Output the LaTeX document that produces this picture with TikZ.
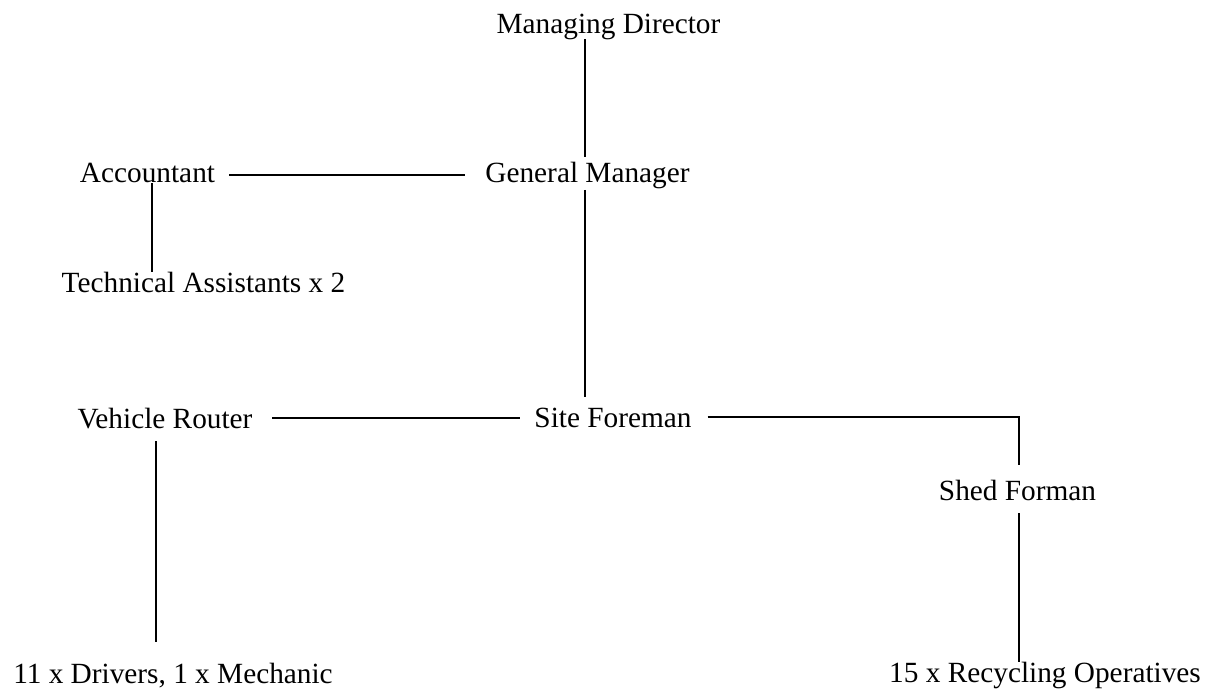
\documentclass[tikz,border=0pt]{standalone}
\usepackage{fontspec}
\setmainfont{Liberation Serif}
\begin{document}
\begin{tikzpicture}[x=1pt,y=-1pt,
  lbl/.style={anchor=base,inner sep=0pt,outer sep=0pt,font=\fontsize{29.3}{35}\selectfont},
  conn/.style={line width=1.4pt,line cap=butt}]
\useasboundingbox (0,0) rectangle (1214,691);
\fill[white] (0,0) rectangle (1214,691);
% nodes
\node[lbl] (MD) at (608.5,33) {Managing Director};
\node[lbl] (GM) at (587.5,182) {General Manager};
\node[lbl] (Acc) at (147.5,182) {Accountant};
\node[lbl] (TA) at (203.5,292) {Technical Assistants x 2};
\node[lbl] (VR) at (165,428) {Vehicle Router};
\node[lbl] (SF) at (613,427) {Site Foreman};
\node[lbl] (Shed) at (1017.5,500) {Shed Forman};
\node[lbl] (Drv) at (173,683) {11 x Drivers, 1 x Mechanic};
\node[lbl] (Rec) at (1045,682) {15 x Recycling Operatives};
% guide coordinates
\coordinate (xGM) at (585,0);
\coordinate (xAcc) at (152,0);
\coordinate (xVR) at (156,0);
\coordinate (xShed) at (1019,0);
\coordinate (yTop) at (0,175);
\coordinate (yMid) at (0,418);
\coordinate (yRight) at (0,417);
% connectors
\draw[conn,shorten >=5pt] (xGM |- MD.south) -- (xGM |- GM.north);
\draw[conn,shorten <=14pt,shorten >=20pt] (Acc.east |- yTop) -- (GM.west |- yTop);
\draw[conn,shorten <=1pt] (xAcc |- Acc.south) -- (xAcc |- TA.north);
\draw[conn,shorten <=1.6pt,shorten >=11pt] (xGM |- GM.south) -- (xGM |- SF.north);
\draw[conn,shorten <=20pt,shorten >=14pt] (VR.east |- yMid) -- (SF.west |- yMid);
\draw[conn,shorten <=16pt,shorten >=15pt] (SF.east |- yRight) -| (xShed |- Shed.north);
\draw[conn,shorten <=13pt,shorten >=21pt] (xVR |- VR.south) -- (xVR |- Drv.north);
\draw[conn,shorten <=13pt] (xShed |- Shed.south) -- (xShed |- Rec.north);
\end{tikzpicture}
\end{document}
